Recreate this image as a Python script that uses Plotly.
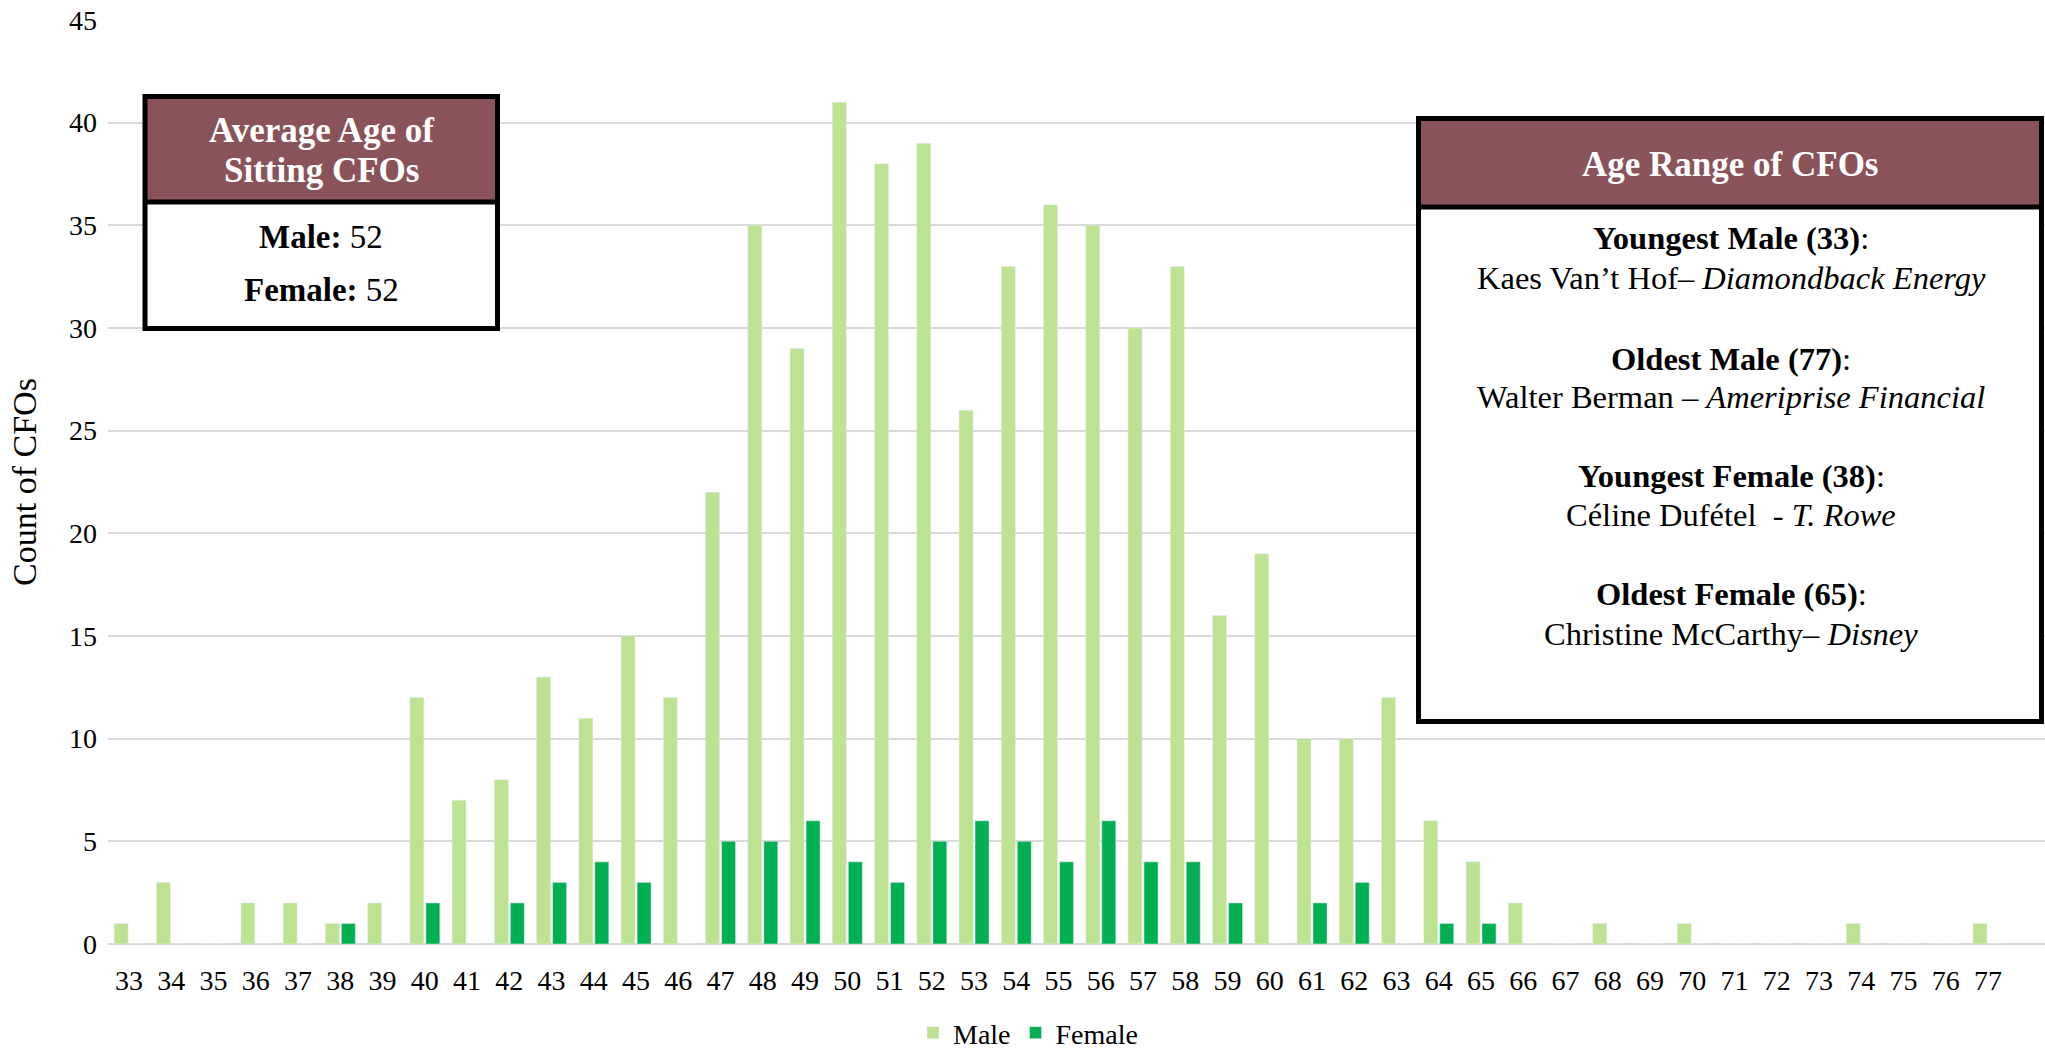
import plotly.graph_objects as go

ages = [str(a) for a in range(33, 78)]
male = [1, 3, 0, 2, 2, 1, 2, 12, 7, 8, 13, 11, 15, 12, 22, 35, 29, 41, 38, 39, 26, 33, 36,
        35, 30, 33, 16, 19, 10, 10, 12, 6, 4, 2, 0, 1, 0, 1, 0, 0, 0, 1, 0, 0, 1]
female = [0, 0, 0, 0, 0, 1, 0, 2, 0, 2, 3, 4, 3, 0, 5, 5, 6, 4, 3, 5, 6, 5, 4,
          6, 4, 4, 2, 0, 2, 3, 0, 1, 1, 0, 0, 0, 0, 0, 0, 0, 0, 0, 0, 0, 0]
y_ticks = [0, 5, 10, 15, 20, 25, 30, 35, 40, 45]

avg_title = ["Average Age of", "Sitting CFOs"]
avg_lines = ["<b>Male:</b> 52", "<b>Female:</b> 52"]
range_title = "Age Range of CFOs"
range_lines = [
    "<b>Youngest Male (33)</b>:",
    "Kaes Van\u2019t Hof\u2013 <i>Diamondback Energy</i>",
    "<b>Oldest Male (77)</b>:",
    "Walter Berman \u2013 <i>Ameriprise Financial</i>",
    "<b>Youngest Female (38)</b>:",
    "C\u00e9line Duf\u00e9tel  - <i>T. Rowe</i>",
    "<b>Oldest Female (65)</b>:",
    "Christine McCarthy\u2013 <i>Disney</i>",
]

W, H = 2045, 1055
L, R, T, B = 108, 0, 20, 111
FONT = "Liberation Serif"
MAROON = "#8A5359"

def px(x):
    return (x - L) / (W - L - R)

def py(y):
    return (H - B - y) / (H - T - B)

fig = go.Figure()
fig.add_trace(go.Bar(x=ages, y=male, name="Male", marker_color="#BCE292"))
fig.add_trace(go.Bar(x=ages, y=female, name="Female", marker_color="#00B050"))

shapes = []
annotations = []

def box(x0, y0, x1, y1, ydiv):
    shapes.append(dict(type="rect", xref="paper", yref="paper", x0=px(x0), x1=px(x1),
                       y0=py(y0), y1=py(ydiv), fillcolor=MAROON, line_width=0, layer="above"))
    shapes.append(dict(type="rect", xref="paper", yref="paper", x0=px(x0), x1=px(x1),
                       y0=py(ydiv), y1=py(y1), fillcolor="white", line_width=0, layer="above"))
    shapes.append(dict(type="line", xref="paper", yref="paper", x0=px(x0), x1=px(x1),
                       y0=py(ydiv), y1=py(ydiv), line=dict(color="black", width=5), layer="above"))
    shapes.append(dict(type="rect", xref="paper", yref="paper", x0=px(x0), x1=px(x1),
                       y0=py(y0), y1=py(y1), line=dict(color="black", width=5), layer="above"))

def text(x, y, s, size, color="black"):
    annotations.append(dict(x=px(x), y=py(y), xref="paper", yref="paper", text=s,
                            showarrow=False, xanchor="center", yanchor="middle",
                            font=dict(family=FONT, size=size, color=color)))

box(145, 96.5, 497.5, 328.5, 202)
text(321, 131, "<b>" + avg_title[0] + "</b>", 35, "white")
text(321, 170, "<b>" + avg_title[1] + "</b>", 35, "white")
text(321, 237, avg_lines[0], 33)
text(321, 290, avg_lines[1], 33)

box(1418.5, 118.5, 2041.5, 721.5, 207)
text(1730, 164, "<b>" + range_title + "</b>", 35, "white")
ys = [238, 278, 359, 397, 476, 515, 594, 634]
for s, yy in zip(range_lines, ys):
    text(1731, yy, s, 32.5)

fig.update_layout(
    width=W, height=H,
    margin=dict(l=L, r=R, t=T, b=B, autoexpand=False),
    paper_bgcolor="white", plot_bgcolor="white",
    barmode="group", bargap=0.243, bargroupgap=0.125,
    font=dict(family=FONT, size=28, color="#000000"),
    showlegend=True,
    legend=dict(orientation="h", x=px(1028), xanchor="center",
                yref="container", y=1 - 1033 / H, yanchor="middle",
                font=dict(family=FONT, size=28, color="#000000"), traceorder="normal"),
    shapes=shapes, annotations=annotations,
    hovermode=False,
)
fig.update_xaxes(type="category", range=[-0.5, 45.35], showgrid=False, showline=False,
                 zeroline=False, ticks="", tickfont=dict(family=FONT, size=28),
                 ticklabelstandoff=17)
fig.update_yaxes(range=[0, 45], tickvals=y_ticks, showgrid=True, gridcolor="#D9D9D9",
                 gridwidth=2, zeroline=True, zerolinecolor="#D9D9D9", zerolinewidth=2,
                 showline=False, ticks="", tickfont=dict(family=FONT, size=28),
                 ticklabelstandoff=10,
                 title=dict(text="Count of CFOs", font=dict(family=FONT, size=34), standoff=22))

fig.write_html("out.html", config={"displayModeBar": False},
               post_script="document.body.style.margin='0';")
